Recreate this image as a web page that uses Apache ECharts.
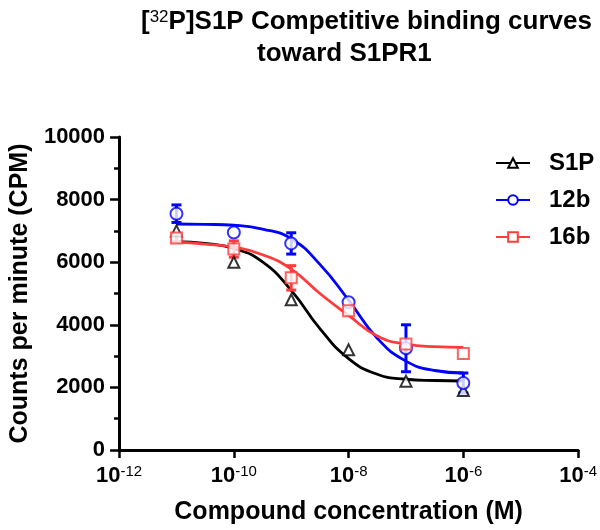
<!DOCTYPE html>
<html><head><meta charset="utf-8">
<script src="https://cdn.jsdelivr.net/npm/echarts@6/dist/echarts.min.js"></script>
<style>html,body{margin:0;padding:0;background:#fff}#c{width:600px;height:530px}</style>
</head><body><div id="c"></div>
<script>
// concentrations as log10(M)
const concLog = [-11, -10, -9, -8, -7, -6];
const s1pMean = [7000, 6000, 4800, 3200, 2200, 1900];
const s1pErr  = [0, 0, 0, 0, 0, 0];
const b12Mean = [7550, 6950, 6600, 4720, 3250, 2140];
const b12Err  = [280, 0, 340, 0, 750, 320];
const b16Mean = [6770, 6420, 5500, 4450, 3390, 3080];
const b16Err  = [120, 260, 390, 0, 0, 0];
// fitted curves
const curveLog = [-11, -10.5, -10, -9.5, -9, -8.5, -8, -7.5, -7, -6.5, -6];
const s1pFit = [6660, 6600, 6440, 6010, 5100, 3880, 2920, 2420, 2260, 2220, 2205];
const b12Fit = [7220, 7210, 7180, 7060, 6750, 5930, 4790, 3570, 2840, 2540, 2460];
const b16Fit = [6640, 6580, 6480, 6240, 5780, 5000, 4300, 3640, 3380, 3300, 3280];
const yTicks = [0, 2000, 4000, 6000, 8000, 10000];
const names = ['S1P', '12b', '16b'];
const colors = ['#000000', '#0000ff', '#ff3b3b'];
const symbols = ['emptyTriangle', 'emptyCircle', 'emptyRect'];
const symSizes = [11, 12, 11];

const FONT = 'Liberation Sans, Arial, sans-serif';
const means = [s1pMean, b12Mean, b16Mean];
const errs = [s1pErr, b12Err, b16Err];
const fits = [s1pFit, b12Fit, b16Fit];

const series = [];
names.forEach((n, i) => {
  series.push({
    name: n, type: 'line', z: 2,
    data: curveLog.map((x, k) => [x, fits[i][k]]),
    smooth: 0.5,
    symbol: symbols[i], showSymbol: false, symbolSize: symSizes[i],
    lineStyle: { color: colors[i], width: 2.8 },
    itemStyle: { color: colors[i], borderWidth: 2 },
    silent: true, animation: false
  });
});
names.forEach((n, i) => {
  series.push({
    name: n, type: 'custom', z: 3, animation: false,
    data: concLog.map((x, k) => [x, means[i][k], errs[i][k]]),
    renderItem: function (params, api) {
      const x = api.value(0), y = api.value(1), e = api.value(2);
      if (!e) return null;
      const t = api.coord([x, y + e]), b = api.coord([x, y - e]);
      const st = { stroke: colors[i], lineWidth: 3 };
      return { type: 'group', children: [
        { type: 'line', shape: { x1: t[0], y1: t[1], x2: b[0], y2: b[1] }, style: st },
        { type: 'line', shape: { x1: t[0] - 5, y1: t[1], x2: t[0] + 5, y2: t[1] }, style: st },
        { type: 'line', shape: { x1: b[0] - 5, y1: b[1], x2: b[0] + 5, y2: b[1] }, style: st }
      ]};
    }
  });
});
names.forEach((n, i) => {
  series.push({
    name: n, type: 'scatter', z: 4, animation: false,
    data: concLog.map((x, k) => [x, means[i][k]]),
    symbol: symbols[i], symbolSize: symSizes[i],
    itemStyle: { color: colors[i], borderWidth: 2.6 }
  });
});

const chart = echarts.init(document.getElementById('c'), null, { renderer: 'canvas' });
chart.setOption({
  backgroundColor: '#fff',
  animation: false,
  title: [
    { text: '[{s|32}P]S1P Competitive binding curves', left: 136, top: 4,
      textStyle: { fontFamily: FONT, fontWeight: 'bold', fontSize: 26, color: '#000',
        rich: { s: { fontFamily: FONT, fontWeight: 'normal', fontSize: 17, verticalAlign: 'top', color: '#000' } } } },
    { text: 'toward S1PR1', left: 252, top: 36,
      textStyle: { fontFamily: FONT, fontWeight: 'bold', fontSize: 26, color: '#000' } }
  ],
  legend: {
    data: names, orient: 'vertical', left: 490, top: 146, itemGap: 13,
    itemWidth: 34, itemHeight: 12,
    textStyle: { fontFamily: FONT, fontWeight: 'bold', fontSize: 24, color: '#000', padding: [0, 0, 0, 14] }
  },
  grid: { left: 101, right: 21, top: 137, bottom: 76, containLabel: false },
  xAxis: {
    type: 'value', min: -12, max: -4, interval: 2,
    name: 'Compound concentration (M)', nameLocation: 'middle', nameGap: 50,
    nameTextStyle: { fontFamily: FONT, fontWeight: 'bold', fontSize: 25, color: '#000' },
    axisLine: { lineStyle: { color: '#000', width: 3 } },
    axisTick: { length: 8, lineStyle: { color: '#000', width: 2.5 } },
    splitLine: { show: false },
    axisLabel: {
      margin: 14, color: '#000',
      formatter: v => '{b|10}{s|' + v + '}',
      rich: {
        b: { fontFamily: FONT, fontWeight: 'bold', fontSize: 22, color: '#000', lineHeight: 24 },
        s: { fontFamily: FONT, fontWeight: 'normal', fontSize: 15, color: '#000', verticalAlign: 'top', lineHeight: 16 }
      }
    }
  },
  yAxis: {
    type: 'value', min: yTicks[0], max: yTicks[yTicks.length - 1], interval: yTicks[1] - yTicks[0],
    name: 'Counts per minute (CPM)', nameLocation: 'middle', nameGap: 78,
    nameTextStyle: { fontFamily: FONT, fontWeight: 'bold', fontSize: 25, color: '#000' },
    axisLine: { show: true, lineStyle: { color: '#000', width: 3 } },
    axisTick: { show: true, length: 9, lineStyle: { color: '#000', width: 2.5 } },
    minorTick: { show: true, splitNumber: 2, length: 5, lineStyle: { color: '#000', width: 2.5 } },
    splitLine: { show: false },
    axisLabel: { margin: 14, fontFamily: FONT, fontWeight: 'bold', fontSize: 22, color: '#000',
      formatter: v => String(v) }
  },
  series: series
});
</script></body></html>
